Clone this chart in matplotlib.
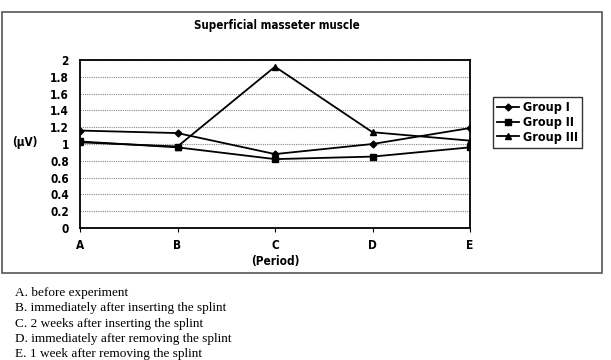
import numpy as np
import matplotlib.pyplot as plt
from matplotlib.patches import Rectangle

# data
periods = ['A', 'B', 'C', 'D', 'E']
group1 = [1.16, 1.13, 0.88, 1.00, 1.19]
group2 = [1.03, 0.96, 0.82, 0.85, 0.96]
group3 = [1.02, 0.97, 1.92, 1.14, 1.04]
notes = ['A. before experiment',
         'B. immediately after inserting the splint',
         'C. 2 weeks after inserting the splint',
         'D. immediately after removing the splint',
         'E. 1 week after removing the splint']

bold_font = ['DejaVu Sans']
stretch = 'condensed'

fig = plt.figure(figsize=(6.11, 3.6), dpi=100)
W, H = 611.0, 360.0

# outer frame of the chart
fig.patches.append(Rectangle((2/W, 1-273/H), 600/W, 261/H, transform=fig.transFigure,
                             fill=False, edgecolor='#555555', lw=1.2))

ax = fig.add_axes([80/W, 1-228/H, 390/W, 168/H])
x = np.arange(len(periods))
ax.plot(x, group1, color='black', lw=1.3, marker='D', ms=3.5, label='Group I')
ax.plot(x, group2, color='black', lw=1.3, marker='s', ms=4, label='Group II')
ax.plot(x, group3, color='black', lw=1.3, marker='^', ms=4, label='Group III')

fkw = dict(fontfamily=bold_font, fontweight='bold', fontstretch=stretch, fontsize=8.5)
ax.set_xlim(0, len(periods)-1)
ax.set_ylim(0, 2)
ax.set_yticks(np.arange(0, 2.01, 0.2))
ax.set_yticklabels(['0', '0.2', '0.4', '0.6', '0.8', '1', '1.2', '1.4', '1.6', '1.8', '2'], **fkw)
ax.set_xticks(x)
ax.set_xticklabels(periods, **fkw)
ax.tick_params(axis='y', length=0, pad=8)
ax.tick_params(axis='x', length=3, direction='out', pad=5)
ax.grid(axis='y', color='#888888', ls=(0, (1, 1)), lw=0.8)
for s in ax.spines.values():
    s.set_linewidth(1.3)

ax.set_xlabel('(Period)', labelpad=2, **fkw)
fig.text(25/W, 1-143/H, '(μV)', ha='center', va='center', **fkw)
fig.text(277/W, 1-25/H, 'Superficial masseter muscle', fontfamily=bold_font,
         fontweight='bold', fontstretch=stretch, fontsize=8.3, ha='center', va='center')

leg = ax.legend(loc='upper left', bbox_to_anchor=(487/W, 1-91/H), bbox_transform=fig.transFigure,
                frameon=True, fancybox=False, edgecolor='black', handlelength=1.8,
                handletextpad=0.3, borderpad=0.3, labelspacing=0.15,
                prop={'family': bold_font, 'weight': 'bold', 'stretch': stretch, 'size': 9})
leg.get_frame().set_linewidth(1.0)

for i, t in enumerate(notes):
    fig.text(15/W, 1-(293+15.3*i)/H, t, fontfamily=['Liberation Serif', 'DejaVu Serif'],
             fontsize=9.5, ha='left', va='center')

fig.savefig('out.png', dpi=100)
